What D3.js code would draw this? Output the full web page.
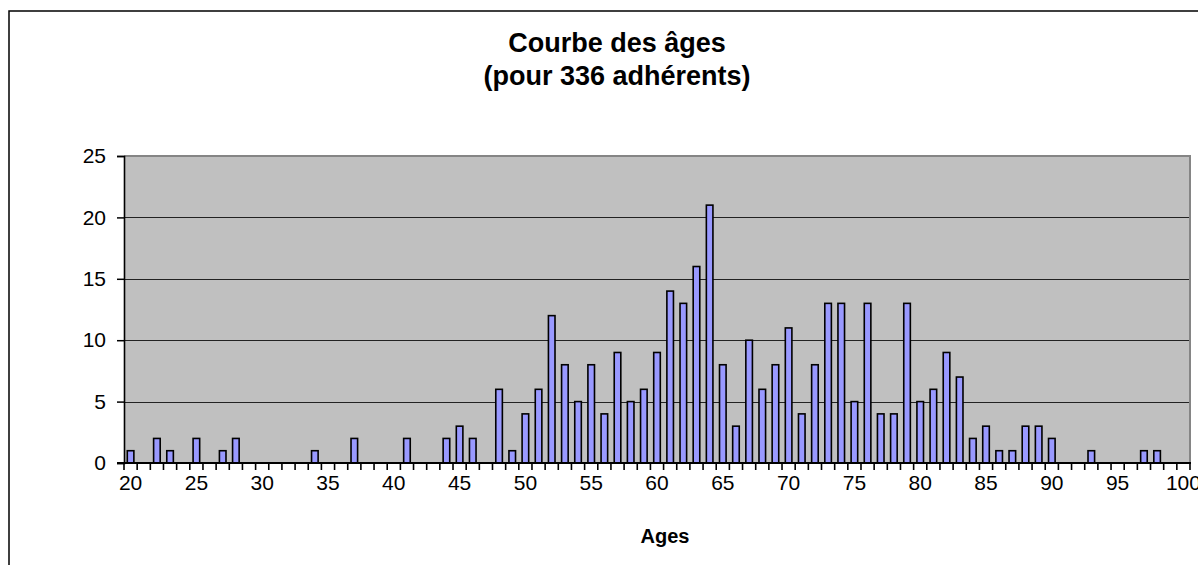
<!DOCTYPE html>
<html>
<head>
<meta charset="utf-8">
<script src="https://cdn.jsdelivr.net/npm/d3@7"></script>
<style>
  html, body { margin: 0; padding: 0; background: #fff; }
  svg { display: block; }
  text { font-family: "Liberation Sans", Arial, sans-serif; fill: #000; }
</style>
</head>
<body>
<svg id="chart" width="1198" height="565"></svg>
<script>
const titleLines = ["Courbe des âges", "(pour 336 adhérents)"];
const xTitle = "Ages";
const ages = d3.range(20, 101);
const counts = [
  1, 0, 2, 1, 0, 2, 0, 1, 2, 0,   // 20-29
  0, 0, 0, 0, 1, 0, 0, 2, 0, 0,   // 30-39
  0, 2, 0, 0, 2, 3, 2, 0, 6, 1,   // 40-49
  4, 6, 12, 8, 5, 8, 4, 9, 5, 6,  // 50-59
  9, 14, 13, 16, 21, 8, 3, 10, 6, 8, // 60-69
  11, 4, 8, 13, 13, 5, 13, 4, 4, 13, // 70-79
  5, 6, 9, 7, 2, 3, 1, 1, 3, 3,   // 80-89
  2, 0, 0, 1, 0, 0, 0, 1, 1, 0,   // 90-99
  0                               // 100
];
const xTickLabels = [20, 25, 30, 35, 40, 45, 50, 55, 60, 65, 70, 75, 80, 85, 90, 95, 100];
const yTicks = [0, 5, 10, 15, 20, 25];

const data = ages.map((a, i) => ({ age: a, n: counts[i] }));

const svg = d3.select("#chart");
const L = 124, R = 1190, T = 156, B = 463;

// outer chart frame (extends beyond the window on right/bottom)
svg.append("rect").attr("x", 9).attr("y", 11).attr("width", 1300).attr("height", 700)
  .attr("fill", "none").attr("stroke", "#000").attr("stroke-width", 1.5);

const xCat = d3.scaleBand().domain(ages).range([L, R]).padding(0);
const xBar = d3.scaleBand().domain(ages).range([L, R]).paddingInner(0.5).paddingOuter(0.25);
const y = d3.scaleLinear().domain([0, 25]).range([B, T]);

// plot background
svg.append("rect").attr("x", L).attr("y", T).attr("width", R - L).attr("height", B - T)
  .attr("fill", "#c0c0c0");

// gridlines
svg.append("g").selectAll("line").data(yTicks.filter(v => v > 0 && v < 25)).join("line")
  .attr("x1", L).attr("x2", R)
  .attr("y1", d => Math.round(y(d)) + 0.5).attr("y2", d => Math.round(y(d)) + 0.5)
  .attr("stroke", "#222").attr("stroke-width", 1);

// plot border top/right
svg.append("path")
  .attr("d", `M${L},${T}H${R}V${B}`)
  .attr("fill", "none").attr("stroke", "#858585").attr("stroke-width", 2);

// bars
svg.append("g").selectAll("rect").data(data.filter(d => d.n > 0)).join("rect")
  .attr("x", d => xBar(d.age))
  .attr("width", xBar.bandwidth())
  .attr("y", d => y(d.n))
  .attr("height", d => y(0) - y(d.n))
  .attr("fill", "#9999ff").attr("stroke", "#000").attr("stroke-width", 1.6);

// y axis
const yAxis = d3.axisLeft(y).tickValues(yTicks).tickSize(7).tickPadding(11).tickFormat(d3.format("d"));
const gy = svg.append("g").attr("transform", `translate(${L},0)`).call(yAxis);
gy.select(".domain").attr("stroke", "#000").attr("stroke-width", 1.6);
gy.selectAll(".tick line").attr("stroke", "#000").attr("stroke-width", 1.5);
gy.selectAll("text").attr("font-size", 21).attr("font-family", "Liberation Sans, Arial, sans-serif");

// x axis: boundary ticks
const bounds = ages.map(a => xCat(a)).concat([xCat(ages[ages.length - 1]) + xCat.bandwidth()]);
svg.append("g").selectAll("line").data(bounds).join("line")
  .attr("x1", d => d).attr("x2", d => d)
  .attr("y1", B).attr("y2", B + 7)
  .attr("stroke", "#000").attr("stroke-width", 1.6);
svg.append("line").attr("x1", L - 7).attr("x2", R + 1).attr("y1", B).attr("y2", B)
  .attr("stroke", "#000").attr("stroke-width", 2);

// x labels
const xAxis = d3.axisBottom(xCat).tickValues(xTickLabels).tickSize(0).tickPadding(12);
const gx = svg.append("g").attr("transform", `translate(0,${B})`).call(xAxis);
gx.select(".domain").remove();
gx.selectAll("text").attr("font-size", 21).attr("font-family", "Liberation Sans, Arial, sans-serif");

// titles
svg.append("g").selectAll("text").data(titleLines).join("text")
  .attr("x", 617).attr("y", (d, i) => 52 + i * 33)
  .attr("text-anchor", "middle").attr("font-size", 27).attr("font-weight", "bold")
  .text(d => d);

svg.append("text").attr("x", 665).attr("y", 543)
  .attr("text-anchor", "middle").attr("font-size", 20).attr("font-weight", "bold")
  .text(xTitle);
</script>
</body>
</html>
